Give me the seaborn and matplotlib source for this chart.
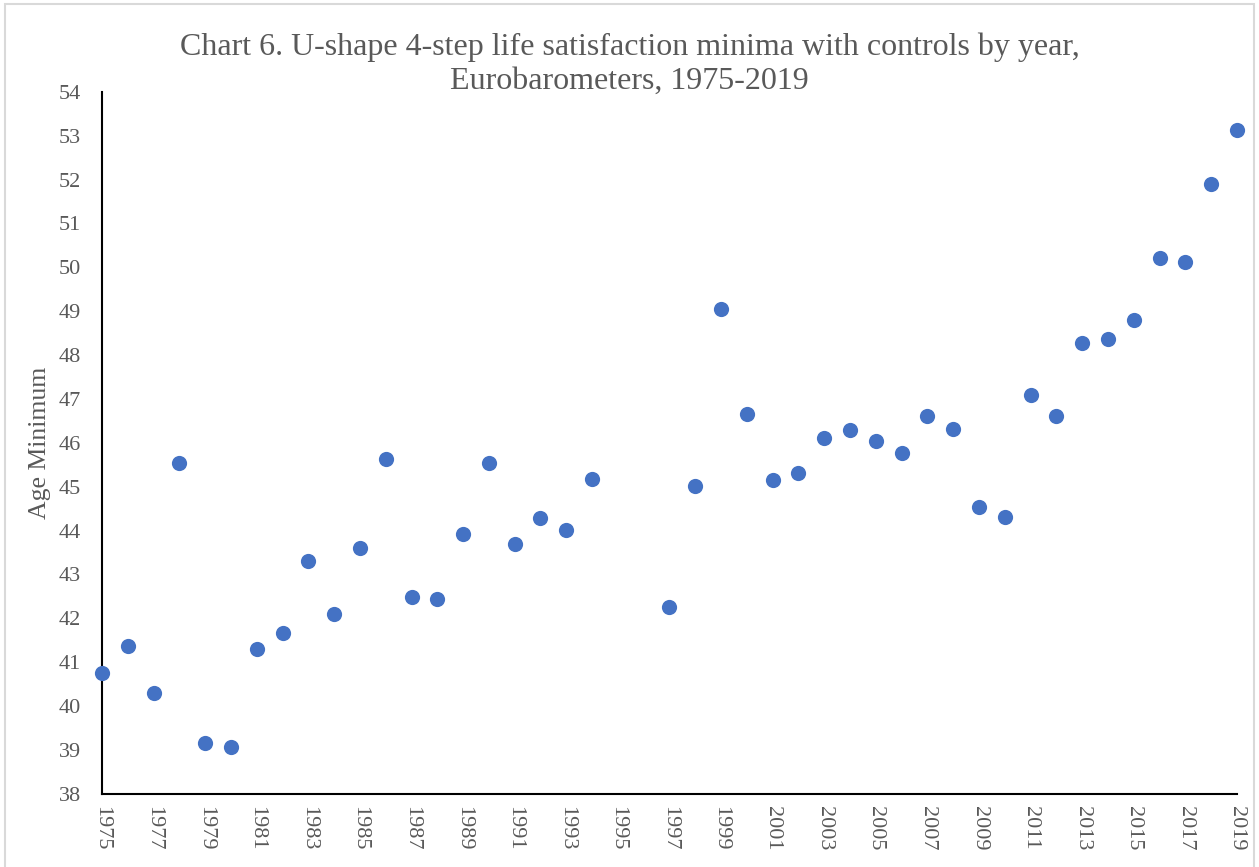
import pandas as pd
import matplotlib.pyplot as plt
import seaborn as sns
from matplotlib.patches import Rectangle

# --- Data ---
years = [1975, 1976, 1977, 1978, 1979, 1980, 1981, 1982, 1983, 1984,
         1985, 1986, 1987, 1988, 1989, 1990, 1991, 1992, 1993, 1994,
         1997, 1998, 1999, 2000, 2001, 2002, 2003, 2004, 2005, 2006,
         2007, 2008, 2009, 2010, 2011, 2012, 2013, 2014, 2015, 2016,
         2017, 2018, 2019]
age_minimum = [40.75, 41.37, 40.29, 45.53, 39.16, 39.06, 41.31, 41.66, 43.31, 42.09,
               43.61, 45.64, 42.49, 42.44, 43.93, 45.54, 43.69, 44.29, 44.02, 45.18,
               42.25, 45.01, 49.04, 46.65, 45.15, 45.32, 46.11, 46.30, 46.04, 45.76,
               46.62, 46.32, 44.53, 44.31, 47.10, 46.61, 48.28, 48.37, 48.80, 50.22,
               50.12, 51.90, 53.13]
x_ticks = list(range(1975, 2020, 2))
y_ticks = list(range(38, 55))
title = "Chart 6. U-shape 4-step life satisfaction minima with controls by year,\nEurobarometers, 1975-2019"

df = pd.DataFrame({"Year": years, "Age Minimum": age_minimum})

sns.set_theme(style="white")
plt.rcParams['font.family'] = ['Liberation Serif', 'DejaVu Serif']
text_grey = "#595959"

fig = plt.figure(figsize=(12.59, 8.67), dpi=100)
ax = fig.add_axes([0.081, 0.0845, 0.9015, 0.8095])
fig.patches.append(Rectangle((0.004, -0.01), 0.992, 1.005, transform=fig.transFigure,
                             fill=False, edgecolor="#d9d9d9", linewidth=1.5))

sns.scatterplot(data=df, x="Year", y="Age Minimum", ax=ax, color="#4472C4",
                s=120, linewidth=0, clip_on=False, zorder=3)

ax.set_xlim(1975, 2019)
ax.set_ylim(38, 54)
ax.set_xticks(x_ticks)
ax.set_yticks(y_ticks)
ax.set_xticklabels([str(y) for y in x_ticks], rotation=270, fontsize=16, color=text_grey)
ax.set_yticklabels([str(v) for v in y_ticks], fontsize=16, color=text_grey)
ax.tick_params(axis='both', direction='in', length=6, width=1.5, color='black')
ax.tick_params(axis='x', pad=9)
ax.tick_params(axis='y', pad=15)

for side in ['top', 'right']:
    ax.spines[side].set_visible(False)
for side in ['left', 'bottom']:
    ax.spines[side].set_color('black')
    ax.spines[side].set_linewidth(1.5)

ax.set_xlabel("")
ax.set_ylabel("Age Minimum", fontsize=18.5, color=text_grey, labelpad=6)
fig.suptitle(title, fontsize=23, color=text_grey, y=0.962, linespacing=1.22)

plt.savefig("out.png", dpi=100)
plt.close()
